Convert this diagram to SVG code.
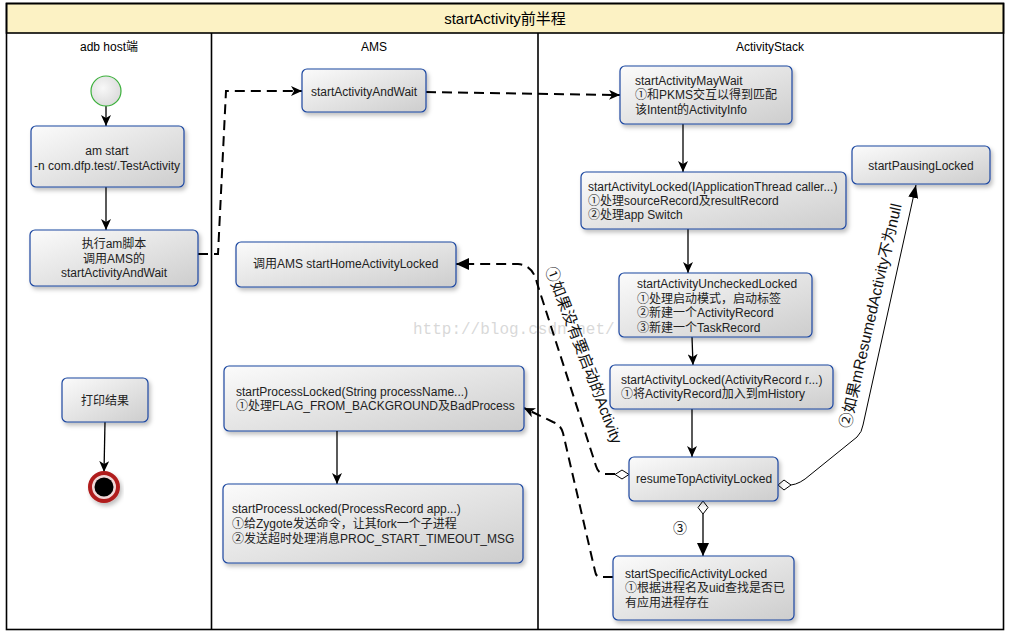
<svg xmlns="http://www.w3.org/2000/svg" width="1009" height="634" viewBox="0 0 1009 634">
<style>
.frame{fill:none;stroke:#000;stroke-width:1.6}
.box{fill:url(#g);stroke:#1c47a0;stroke-width:1.2;filter:url(#sh)}
.t{font-family:"Liberation Sans","Noto Sans CJK SC",sans-serif;font-size:12px;fill:#222}
.c{text-anchor:middle}
.hd{font-family:"Liberation Sans","Noto Sans CJK SC",sans-serif;font-size:12px;fill:#000;text-anchor:middle}
.solid{fill:none;stroke:#000;stroke-width:1.3}
.dash{fill:none;stroke:#000;stroke-width:2;stroke-dasharray:10 6}
.thin{fill:none;stroke:#000;stroke-width:1}
.dia{fill:#fff;stroke:#000;stroke-width:1}
.lbl{font-family:"Liberation Sans","Noto Sans CJK SC",sans-serif;fill:#111}
</style>
<defs>
<linearGradient id="g" x1="0" y1="0" x2="1" y2="1">
<stop offset="0" stop-color="#fbfbfb"/>
<stop offset="1" stop-color="#cdcdcd"/>
</linearGradient>
<radialGradient id="sg" cx="0.4" cy="0.4" r="0.7">
<stop offset="0" stop-color="#f8f8f8"/>
<stop offset="1" stop-color="#d8d8d8"/>
</radialGradient>
<filter id="sh" x="-10%" y="-10%" width="130%" height="140%">
<feDropShadow dx="2" dy="3" stdDeviation="2" flood-color="#000" flood-opacity="0.25"/>
</filter>
<marker id="st" markerUnits="userSpaceOnUse" markerWidth="12" markerHeight="10" refX="11" refY="5" orient="auto">
<path d="M0,0 L11,5 L0,10 L3,5 z" fill="#000"/>
</marker>
<marker id="tri" markerUnits="userSpaceOnUse" markerWidth="14" markerHeight="12" refX="13" refY="6" orient="auto">
<path d="M0,0 L13,6 L0,12 z" fill="#000"/>
</marker>
<marker id="tri2" markerUnits="userSpaceOnUse" markerWidth="14" markerHeight="10" refX="13" refY="5" orient="auto">
<path d="M0,0 L13,5 L0,10 z" fill="#000"/>
</marker>
</defs>

<rect x="0" y="0" width="1009" height="634" fill="#fff"/>

<g id="frame">
<rect x="6.5" y="3.5" width="997" height="29.5" fill="#fcf2c4" stroke="#000" stroke-width="1.6"/>
<rect class="frame" x="6.5" y="3.5" width="997" height="626"/>
<line x1="211.5" y1="33" x2="211.5" y2="629.5" stroke="#000" stroke-width="1.6"/>
<line x1="538" y1="33" x2="538" y2="629.5" stroke="#000" stroke-width="1.6"/>
<text x="505" y="24" font-family="Liberation Sans,Noto Sans CJK SC,sans-serif" font-size="15" text-anchor="middle" fill="#000">startActivity前半程</text>
<text class="hd" x="109" y="51">adb host端</text>
<text class="hd" x="374" y="51">AMS</text>
<text class="hd" x="770" y="51">ActivityStack</text>
</g>

<text x="413" y="334" font-family="Liberation Mono,monospace" font-size="16" fill="#cccccc" fill-opacity="0.75">http://blog.csdn.net/</text>

<g id="connectors">
<line class="solid" x1="106" y1="106" x2="106" y2="126" marker-end="url(#st)"/>
<line class="solid" x1="106" y1="187" x2="106" y2="230" marker-end="url(#st)"/>
<line class="solid" x1="105" y1="422" x2="104" y2="472" marker-end="url(#st)"/>
<path class="dash" d="M198,254 L218,254 L226,91 L302,91" marker-end="url(#st)"/>
<path class="dash" d="M426,92 L620,95" marker-end="url(#st)"/>
<line class="solid" x1="683" y1="124" x2="683" y2="172" marker-end="url(#st)"/>
<line class="solid" x1="688" y1="229" x2="688" y2="273" marker-end="url(#st)"/>
<line class="solid" x1="692" y1="337" x2="693" y2="365" marker-end="url(#st)"/>
<line class="solid" x1="692" y1="409" x2="692" y2="457" marker-end="url(#st)"/>
<line class="solid" x1="703" y1="514" x2="703" y2="556" marker-end="url(#tri)"/>
<path class="dash" d="M615,474 L604,474 Q598,473 596,466 L537,283 Q533,265 518,264 L456,264" marker-end="url(#tri)"/>
<path class="dash" d="M613,577 L600,577 Q596,577 595,571 L563,433 Q561,425 553,422 L524,408" marker-end="url(#st)"/>
<path class="thin" d="M791,485 Q800,484 810,475 L857,437 Q862,432 863,425 L916,185" marker-end="url(#tri2)"/>
<polygon class="dia" points="703,501 708,507.5 703,514 698,507.5"/>
<polygon class="dia" points="629,474.5 622,479 615,474.5 622,470"/>
<polygon class="dia" points="778,485 784,480 791,485 784,490"/>
<text class="lbl" x="680" y="533" font-size="14" text-anchor="middle">③</text>
<text class="lbl" font-size="15.5" transform="translate(545,269) rotate(69)">①如果没有要启动的Activity</text>
<text class="lbl" font-size="15.5" transform="translate(850,429) rotate(-77)">②如果mResumedActivity不为null</text>
</g>

<g id="start">
<circle cx="106" cy="91" r="15" fill="url(#sg)" stroke="#3bb03b" stroke-width="1.2"/>
</g>
<g id="end">
<circle cx="104" cy="487" r="14" fill="#f0d8d8" stroke="#b01c1c" stroke-width="4" filter="url(#sh)"/>
<circle cx="104" cy="487" r="9.5" fill="#000"/>
</g>

<g id="amStart">
<rect class="box" x="31" y="126" width="153" height="61" rx="5"/>
<text class="t c" x="107" y="155">am start</text>
<text class="t c" x="107" y="170">-n com.dfp.test/.TestActivity</text>
</g>
<g id="runScript">
<rect class="box" x="30" y="230" width="168" height="56" rx="5"/>
<text class="t c" x="114" y="248">执行am脚本</text>
<text class="t c" x="114" y="263">调用AMS的</text>
<text class="t c" x="114" y="277">startActivityAndWait</text>
</g>
<g id="printResult">
<rect class="box" x="62" y="378" width="86" height="44" rx="5"/>
<text class="t c" x="105" y="405">打印结果</text>
</g>

<g id="startActivityAndWait">
<rect class="box" x="302" y="69" width="124" height="43" rx="5"/>
<text class="t c" x="364" y="96">startActivityAndWait</text>
</g>
<g id="startHome">
<rect class="box" x="236" y="242" width="220" height="45" rx="5"/>
<text class="t" x="253" y="268">调用AMS startHomeActivityLocked</text>
</g>
<g id="startProcess1">
<rect class="box" x="224" y="366" width="300" height="65" rx="5"/>
<text class="t" x="236" y="396">startProcessLocked(String processName...)</text>
<text class="t" x="236" y="410">①处理FLAG_FROM_BACKGROUND及BadProcess</text>
</g>
<line class="solid" x1="337" y1="431" x2="337" y2="484" marker-end="url(#st)"/>
<g id="startProcess2">
<rect class="box" x="223" y="484" width="300" height="79" rx="5"/>
<text class="t" x="232" y="513">startProcessLocked(ProcessRecord app...)</text>
<text class="t" x="232" y="528">①给Zygote发送命令，让其fork一个子进程</text>
<text class="t" x="232" y="543">②发送超时处理消息PROC_START_TIMEOUT_MSG</text>
</g>

<g id="startActivityMayWait">
<rect class="box" x="620" y="66" width="172" height="58" rx="5"/>
<text class="t" x="635" y="85">startActivityMayWait</text>
<text class="t" x="635" y="99">①和PKMS交互以得到匹配</text>
<text class="t" x="635" y="114">该Intent的ActivityInfo</text>
</g>
<g id="startActivityLocked1">
<rect class="box" x="581" y="172" width="265" height="57" rx="5"/>
<text class="t" x="588" y="191">startActivityLocked(IApplicationThread caller...)</text>
<text class="t" x="588" y="205">①处理sourceRecord及resultRecord</text>
<text class="t" x="588" y="219">②处理app Switch</text>
</g>
<g id="startActivityUnchecked">
<rect class="box" x="619" y="273" width="193" height="64" rx="5"/>
<text class="t" x="637" y="288">startActivityUncheckedLocked</text>
<text class="t" x="637" y="303">①处理启动模式，启动标签</text>
<text class="t" x="637" y="317">②新建一个ActivityRecord</text>
<text class="t" x="637" y="332">③新建一个TaskRecord</text>
</g>
<g id="startActivityLocked2">
<rect class="box" x="610" y="365" width="223" height="44" rx="5"/>
<text class="t" x="621" y="384">startActivityLocked(ActivityRecord r...)</text>
<text class="t" x="621" y="398">①将ActivityRecord加入到mHistory</text>
</g>
<g id="resumeTop">
<rect class="box" x="629" y="457" width="149" height="44" rx="5"/>
<text class="t" x="636" y="483">resumeTopActivityLocked</text>
</g>
<g id="startSpecific">
<rect class="box" x="613" y="556" width="181" height="64" rx="5"/>
<text class="t" x="625" y="578">startSpecificActivityLocked</text>
<text class="t" x="625" y="592">①根据进程名及uid查找是否已</text>
<text class="t" x="625" y="607">有应用进程存在</text>
</g>
<g id="startPausing">
<rect class="box" x="852" y="146" width="138" height="38" rx="5"/>
<text class="t c" x="921" y="170">startPausingLocked</text>
</g>
</svg>
